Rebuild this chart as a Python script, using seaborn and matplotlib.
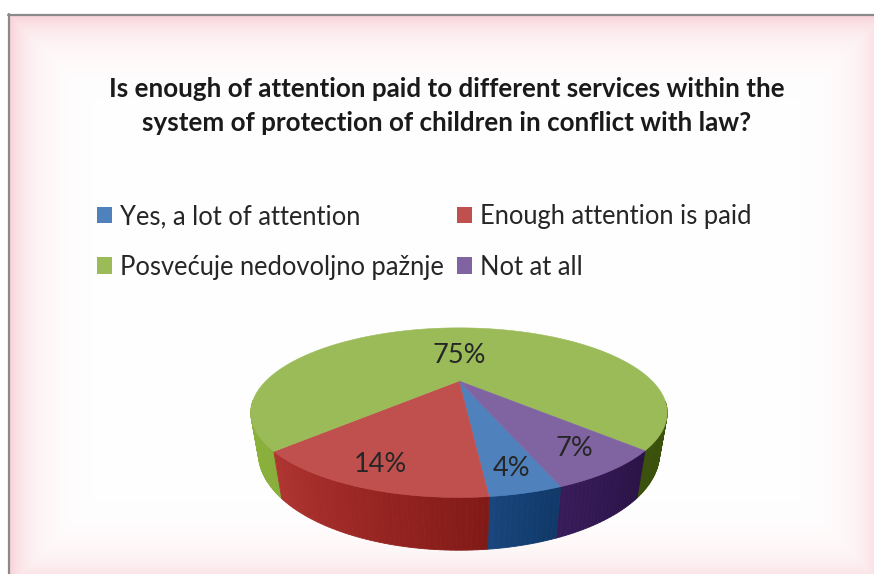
import colorsys
import numpy as np
import matplotlib
matplotlib.use("Agg")
import matplotlib.pyplot as plt
import seaborn as sns
from matplotlib.patches import Polygon, Patch
from matplotlib.colors import to_rgb


# podaci sa grafikona
categories = ["Yes, a lot of attention", "Enough attention is paid",
              "Posvećuje nedovoljno pažnje", "Not at all"]
values = [4, 14, 75, 7]
pct_labels = ["4%", "14%", "75%", "7%"]
colors = ["#4F81BD", "#C0504D", "#9BBB59", "#8064A2"]
title = ("Is enough of attention paid to different services within the\n"
         "system of protection of children in conflict with law?")

W, H = 874, 574

# 3D pie "kamera"
CX, CY = 459, 381          # projekcija centra pite (px)
FOC = 479                  # zum
DIST = 2.48                # udaljenost kamere (u poluprecnicima)
ELEV = np.radians(22.2)    # nagib
DEPTH = 0.216              # debljina pite
START = -70                # ugao pocetka prvog isecka
LABEL_R = [0.85, 0.85, 0.40, 0.82]


def project(x, y, z=0.0):
    s, c = np.sin(ELEV), np.cos(ELEV)
    v = y * s + z * c
    w = DIST + y * c - z * s
    return CX + FOC * x / w, CY - FOC * v / w


def shade(col, phi):
    # svetlo dolazi sa leve strane
    p = (phi + 180) % 360 - 180
    f = np.interp(p, [-180, -135, -90, -70, -45, 0, 45, 90, 180],
                  [0.92, 0.84, 0.6, 0.45, 0.33, 0.36, 0.5, 0.7, 0.92])
    h, l, s = colorsys.rgb_to_hls(*to_rgb(col))
    s = min(1.0, s + (1 - f) * 0.5)
    return colorsys.hls_to_rgb(h, l * f, s)


sns.set_theme(style="white")
plt.rcParams["font.family"] = ["Lato", "DejaVu Sans"]

fig = plt.figure(figsize=(W / 100, H / 100), dpi=100)
ax = fig.add_axes([0, 0, 1, 1])
ax.set_xlim(0, W)
ax.set_ylim(H, 0)
ax.axis("off")

# pozadina sa rozim rubom
yy, xx = np.mgrid[0:H, 0:W] + 0.5
d = np.minimum.reduce([xx - 9, yy - 15, W + 10 - xx, H + 12 - yy])
a = np.exp(-np.clip(d, 0, None) / 22.0) * 0.8
pink = np.array([0.97, 0.78, 0.81])
img = np.ones((H, W, 3)) * (1 - a[..., None]) + pink * a[..., None]
img[(xx < 9) | (yy < 15)] = 1.0
ax.imshow(img, extent=[0, W, H, 0], aspect="auto", zorder=0)
ax.plot([8.5, 8.5], [14, H], color="#8a8a8a", lw=1.6, zorder=1)
ax.plot([8, W], [14.5, 14.5], color="#8a8a8a", lw=1.6, zorder=1)

fracs = np.array(values) / sum(values)
edges = START - np.concatenate([[0], np.cumsum(fracs)]) * 360

# bocne strane
strips = []
for i in range(len(values)):
    phis = np.linspace(edges[i], edges[i + 1], max(4, int(abs(edges[i + 1] - edges[i]))))
    for p1, p2 in zip(phis[:-1], phis[1:]):
        pm = np.radians((p1 + p2) / 2)
        if np.sin(pm) > -0.25:
            continue
        pts = []
        for p, z in [(p1, 0), (p2, 0), (p2, -DEPTH), (p1, -DEPTH)]:
            r = np.radians(p)
            pts.append(project(np.cos(r), np.sin(r), z))
        strips.append((np.sin(pm), pts, shade(colors[i], (p1 + p2) / 2)))
strips.sort(key=lambda t: -t[0])
for _, pts, col in strips:
    ax.add_patch(Polygon(pts, closed=True, fc=col, ec=col, lw=0.6, zorder=2))

# gornje povrsine
for i in range(len(values)):
    phis = np.radians(np.linspace(edges[i], edges[i + 1], 200))
    pts = [project(0, 0)] + [project(np.cos(p), np.sin(p)) for p in phis]
    ax.add_patch(Polygon(pts, closed=True, fc=colors[i], ec=colors[i], lw=0.4, zorder=3))
    mid = np.radians((edges[i] + edges[i + 1]) / 2)
    lx, ly = project(LABEL_R[i] * np.cos(mid), LABEL_R[i] * np.sin(mid))
    ax.text(lx, ly, pct_labels[i], ha="center", va="center", fontsize=19.5,
            color="#262626", zorder=4)

ax.text(447, 106, title, ha="center", va="center", fontsize=18.7,
        fontweight="bold", color="#1a1a1a", linespacing=1.48)

handles = [Patch(fc=c, ec="none") for c in colors]
order = [0, 2, 1, 3]
fig.legend([handles[k] for k in order], [categories[k] for k in order],
           ncol=2, loc="upper left", bbox_to_anchor=(97 / W, 1 - 204 / H),
           frameon=False, fontsize=18.4, handlelength=0.6, handleheight=0.6,
           handletextpad=0.3, columnspacing=0.5, labelspacing=1.0,
           borderpad=0, borderaxespad=0, labelcolor="#262626")

fig.savefig("out.png", dpi=100)
